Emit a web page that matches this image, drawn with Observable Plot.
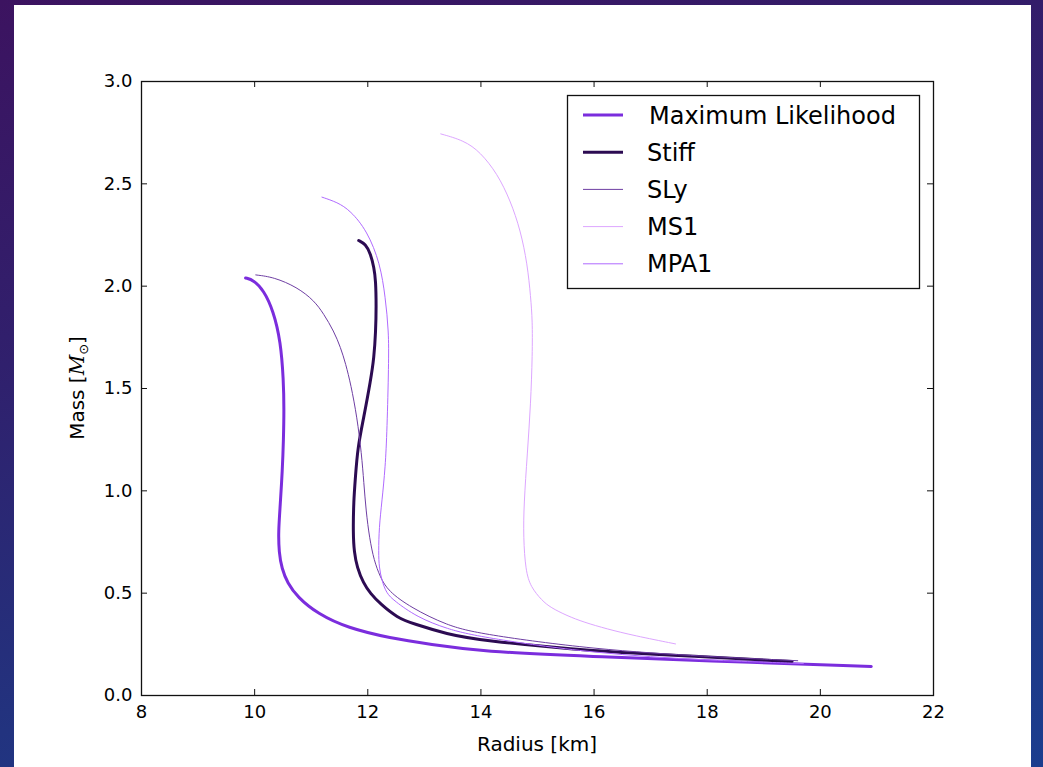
<!DOCTYPE html>
<html><head><meta charset="utf-8">
<script src="https://cdn.jsdelivr.net/npm/d3@7"></script>
<script src="https://cdn.jsdelivr.net/npm/@observablehq/plot@0.6"></script>
<style>
html,body{margin:0;padding:0;width:1043px;height:767px;overflow:hidden;}
body{background:linear-gradient(165deg,#3c1360 0%,#30206d 35%,#22337f 70%,#1b3d8e 100%);position:relative;font-family:"DejaVu Sans",sans-serif;}
#panel{position:absolute;left:14px;top:5px;width:1017px;height:790px;background:#fff;}
#chart{position:absolute;left:0;top:0;}
</style></head><body>
<div id="panel"></div><div id="chart"></div>
<script>
// ---- data ----
const seriesNames = ["Maximum Likelihood", "Stiff", "SLy", "MS1", "MPA1"];

const mlRadius = [9.84, 9.98, 10.16, 10.33, 10.46, 10.51, 10.52, 10.51, 10.49, 10.45, 10.42, 10.43, 10.48, 10.58, 10.76, 11.11, 11.64, 12.40, 13.10, 14.00, 16.00, 17.90, 20.90];
const mlMass   = [2.04, 2.03, 1.98, 1.88, 1.73, 1.54, 1.40, 1.25, 1.10, 0.92, 0.80, 0.70, 0.62, 0.55, 0.48, 0.40, 0.33, 0.28, 0.25, 0.215, 0.19, 0.17, 0.142];

const stiffRadius = [11.84, 11.96, 12.05, 12.11, 12.14, 12.15, 12.14, 12.11, 12.05, 11.93, 11.82, 11.78, 11.75, 11.74, 11.76, 11.81, 11.92, 12.05, 12.22, 12.52, 12.81, 13.40, 13.99, 16.00, 17.90, 19.50];
const stiffMass   = [2.223, 2.206, 2.158, 2.09, 2.03, 1.90, 1.78, 1.65, 1.54, 1.36, 1.21, 1.06, 0.95, 0.79, 0.70, 0.627, 0.55, 0.497, 0.448, 0.38, 0.35, 0.30, 0.269, 0.215, 0.19, 0.166];

const slyRadius = [10.02, 10.34, 10.75, 11.05, 11.22, 11.40, 11.52, 11.61, 11.70, 11.81, 11.89, 11.93, 11.97, 12.03, 12.11, 12.22, 12.36, 12.76, 13.40, 13.99, 16.00, 18.00, 19.60];
const slyMass   = [2.055, 2.044, 1.995, 1.93, 1.865, 1.78, 1.70, 1.62, 1.52, 1.36, 1.18, 1.04, 0.90, 0.77, 0.66, 0.578, 0.51, 0.43, 0.342, 0.30, 0.225, 0.19, 0.17];

const ms1Radius = [13.29, 13.70, 13.99, 14.29, 14.52, 14.70, 14.82, 14.88, 14.91, 14.91, 14.88, 14.82, 14.76, 14.75, 14.79, 14.88, 15.08, 15.23, 15.52, 15.82, 16.23, 16.70, 17.44];
const ms1Mass   = [2.744, 2.712, 2.655, 2.549, 2.419, 2.272, 2.109, 1.946, 1.832, 1.67, 1.425, 1.18, 0.937, 0.773, 0.61, 0.53, 0.464, 0.43, 0.39, 0.358, 0.325, 0.293, 0.252];

const mpa1Radius = [11.19, 11.46, 11.69, 11.99, 12.22, 12.31, 12.37, 12.37, 12.34, 12.31, 12.25, 12.20, 12.19, 12.20, 12.25, 12.33, 12.46, 12.87, 13.40, 13.99, 16.00, 18.00, 19.70];
const mpa1Mass   = [2.435, 2.41, 2.37, 2.27, 2.11, 1.946, 1.78, 1.62, 1.295, 1.115, 0.95, 0.82, 0.70, 0.627, 0.56, 0.50, 0.464, 0.383, 0.325, 0.285, 0.205, 0.172, 0.156];

const xTicks = [8, 10, 12, 14, 16, 18, 20, 22];
const yTicks = [0.0, 0.5, 1.0, 1.5, 2.0, 2.5, 3.0];

// ---- styling ----
const seriesColors = ["#7b2ddd", "#2c0b52", "#6e3ea3", "#dda6ff", "#b06aff"];
const seriesWidths = [3, 3, 1, 1, 1];

const radii = [mlRadius, stiffRadius, slyRadius, ms1Radius, mpa1Radius];
const masses = [mlMass, stiffMass, slyMass, ms1Mass, mpa1Mass];
// keep each curve ordered from the maximum mass down the branch
const rows = seriesNames.map((name, s) => radii[s].map((r, i) => ({series: name, R: r, M: masses[s][i]})));

const W = 1043, H = 767, mL = 141, mR = 110, mT = 81, mB = 72;
const plotW = W - mL - mR, plotH = H - mT - mB;
const font = "DejaVu Sans";

const chart = Plot.plot({
  width: W, height: H,
  marginLeft: mL, marginRight: mR, marginTop: mT, marginBottom: mB,
  style: {background: "transparent", fontFamily: font, fontSize: "18px", color: "#000", overflow: "visible"},
  x: {domain: [8, 22]},
  y: {domain: [0, 3]},
  marks: [
    ...rows.map((d, s) => Plot.line(d, {x: "R", y: "M", stroke: seriesColors[s], strokeWidth: seriesWidths[s], curve: "basis"})),
    Plot.frame({stroke: "#111", strokeWidth: 1.3}),
    // inward ticks on all four sides
    Plot.ruleX(xTicks, {x: d => d, insetTop: plotH - 6, stroke: "#111"}),
    Plot.ruleX(xTicks, {x: d => d, insetBottom: plotH - 6, stroke: "#111"}),
    Plot.ruleY(yTicks, {y: d => d, insetRight: plotW - 6, stroke: "#111"}),
    Plot.ruleY(yTicks, {y: d => d, insetLeft: plotW - 6, stroke: "#111"}),
    Plot.axisX({ticks: xTicks, tickSize: 0, tickPadding: 10, fontSize: 18, label: null, tickFormat: d => String(d)}),
    Plot.axisY({ticks: yTicks, tickSize: 0, tickPadding: 9, fontSize: 18, label: null, tickFormat: d => d.toFixed(1)})
  ]
});
document.getElementById("chart").appendChild(chart);

const svg = d3.select(chart);
// axis labels
svg.append("text").attr("x", mL + plotW / 2).attr("y", 751).attr("text-anchor", "middle")
  .attr("font-family", font).attr("font-size", 20).attr("fill", "#000").text("Radius [km]");
const yl = svg.append("text").attr("transform", `translate(84,${mT + plotH / 2}) rotate(-90)`)
  .attr("text-anchor", "middle").attr("font-family", font).attr("font-size", 20).attr("fill", "#000");
yl.append("tspan").text("Mass [");
yl.append("tspan").attr("font-style", "italic").attr("font-family", "DejaVu Serif").text("M");
yl.append("tspan").attr("font-size", 13).attr("dy", 4).text("⊙");
yl.append("tspan").attr("dy", -4).text("]");

// legend
const lg = svg.append("g").attr("text-anchor", "start");
lg.append("rect").attr("x", 567.5).attr("y", 95.5).attr("width", 352).attr("height", 193)
  .attr("fill", "#fff").attr("stroke", "#111").attr("stroke-width", 1.3);
seriesNames.forEach((name, i) => {
  const cy = 115 + i * 37.2;
  lg.append("line").attr("x1", 583).attr("x2", 623).attr("y1", cy).attr("y2", cy)
    .attr("stroke", seriesColors[i]).attr("stroke-width", seriesWidths[i]);
  lg.append("text").attr("x", i === 0 ? 649 : 647).attr("y", cy).attr("dy", "0.36em")
    .attr("text-anchor", "start")
    .attr("font-family", font).attr("font-size", 24).attr("fill", "#000").text(name);
});
</script>
</body></html>
